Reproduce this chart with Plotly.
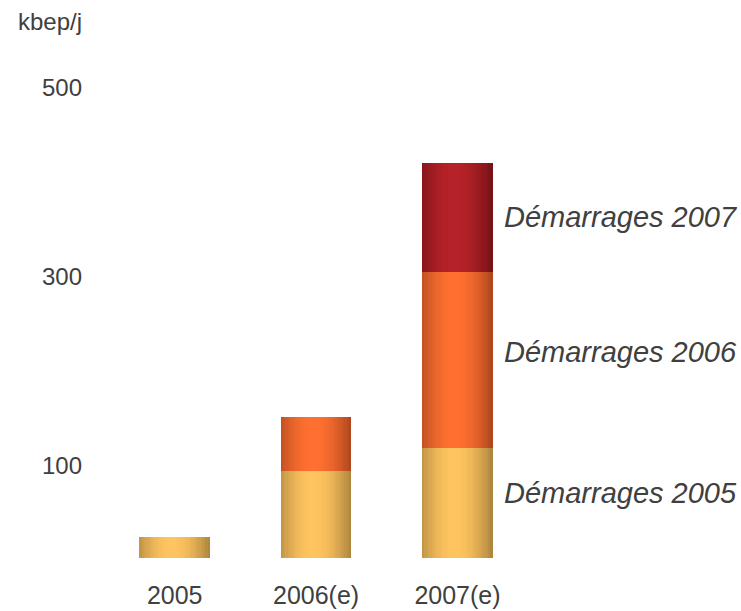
import plotly.graph_objects as go

categories = ["2005", "2006(e)", "2007(e)"]
dem2005 = [22, 92, 116]
dem2006 = [0, 57, 187]
dem2007 = [0, 0, 115]
series_names = ["Démarrages 2005", "Démarrages 2006", "Démarrages 2007"]
y_ticks = [100, 300, 500]
unit_label = "kbep/j"

series = [dem2005, dem2006, dem2007]
edge_cols = [(172, 132, 62), (172, 70, 30), (116, 18, 22)]
center_cols = [(255, 196, 95), (255, 112, 48), (182, 34, 40)]
label_yshift = [10, 8, 0]
TXT = "#404040"

xpos = list(range(len(categories)))
bar_w = 0.5
N = 30
sw = bar_w / N

def profile(u):
    d = (u - 0.46) / 0.54
    v = max(0.0, 1 - d * d)
    return v ** 1.1

fig = go.Figure()
bases = [0] * len(categories)
for s, vals in enumerate(series):
    e, c = edge_cols[s], center_cols[s]
    for i in range(N):
        u = (i + 0.5) / N
        f = profile(u)
        col = "rgb(%d,%d,%d)" % tuple(round(e[k] + (c[k] - e[k]) * f) for k in range(3))
        fig.add_trace(go.Bar(
            x=xpos, y=vals, base=list(bases),
            offset=-bar_w / 2 + i * sw, width=sw * 1.2 if i < N - 1 else sw,
            marker=dict(color=col, line=dict(width=0)),
            showlegend=False, hoverinfo="skip",
        ))
    bases = [bases[j] + vals[j] for j in range(len(categories))]

last = len(categories) - 1
b = 0
for s, vals in enumerate(series):
    mid = b + vals[last] / 2
    b += vals[last]
    fig.add_annotation(x=last + 0.315, y=mid, xref="x", yref="y", text=series_names[s],
                       showarrow=False, xanchor="left", yanchor="middle", yshift=label_yshift[s],
                       font=dict(family="Liberation Sans", size=29, color=TXT, style="italic"))

L, R, T, B = 104, 128, 57, 53
fig.add_annotation(xref="paper", yref="paper",
                   x=(50 - L) / (741 - L - R), y=(611 - B - 22) / (611 - T - B),
                   text=unit_label, showarrow=False, xanchor="center", yanchor="middle",
                   font=dict(family="Liberation Sans", size=24, color=TXT))

fig.update_layout(
    width=741, height=611,
    margin=dict(l=L, r=R, t=T, b=B, pad=0, autoexpand=False),
    plot_bgcolor="white", paper_bgcolor="white",
    barmode="overlay", bargap=0,
    font=dict(family="Liberation Sans", color=TXT),
    xaxis=dict(range=[-0.5, 3.1], tickvals=xpos, ticktext=categories, showgrid=False,
               zeroline=False, showline=False, ticks="", ticklabelstandoff=20,
               automargin=False, tickfont=dict(size=25, color=TXT)),
    yaxis=dict(range=[0, 530], tickvals=y_ticks, showgrid=False, zeroline=False,
               showline=False, ticks="", ticklabelstandoff=21, ticklabelshift=2,
               automargin=False, tickfont=dict(size=24, color=TXT)),
)

fig.write_html("out.html", config={"displayModeBar": False},
               post_script="document.body.style.margin='0';document.body.style.overflow='hidden';")
